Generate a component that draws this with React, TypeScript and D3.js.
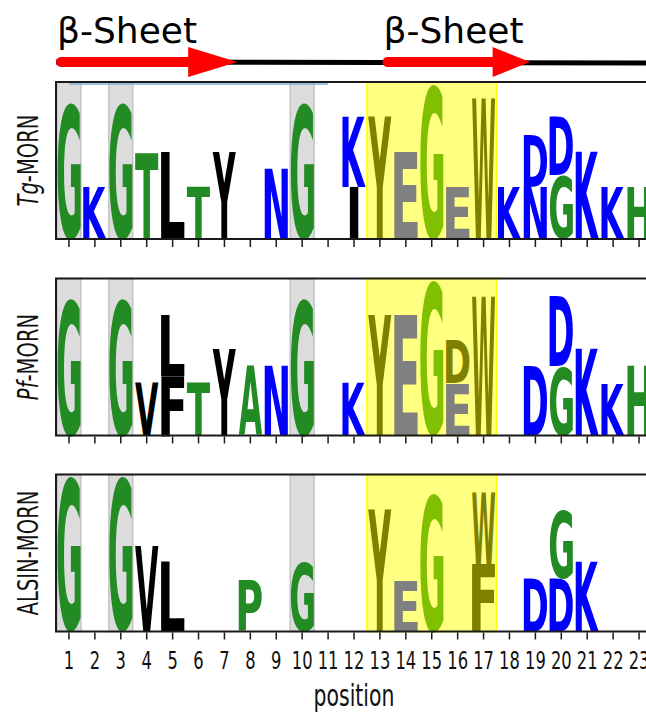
import { useEffect, useRef } from "react";
import * as d3 from "d3";

const positionTicks = [1, 2, 3, 4, 5, 6, 7, 8, 9, 10, 11, 12, 13, 14, 15, 16, 17, 18, 19, 20, 21, 22, 23];
const grayColumns = [1, 3, 10];
const yellowColumns = [13, 14, 15, 16, 17];

// [position, letter, height in bits] - stacked bottom to top
const tgMorn: [number, string, number][] = [
  [1, "G", 3.77], [2, "K", 1.44], [3, "G", 3.77], [4, "T", 2.39], [5, "L", 2.39],
  [6, "T", 1.44], [7, "Y", 2.39], [9, "N", 1.92], [10, "G", 3.77],
  [12, "I", 1.44], [12, "K", 1.93], [13, "Y", 3.37], [14, "E", 2.39], [15, "G", 4.28],
  [16, "E", 1.44], [17, "W", 3.87], [18, "K", 1.44], [19, "N", 1.44], [19, "D", 1.43],
  [20, "G", 1.76], [20, "D", 1.62], [21, "K", 2.4], [22, "K", 1.44], [23, "H", 1.44],
];
const pfMorn: [number, string, number][] = [
  [1, "G", 3.82], [3, "G", 3.82], [4, "V", 1.47], [5, "F", 1.65], [5, "L", 1.68],
  [6, "T", 1.47], [7, "Y", 2.4], [8, "A", 1.94], [9, "N", 1.94], [10, "G", 3.82],
  [12, "K", 1.45], [13, "Y", 3.34], [14, "E", 3.34], [15, "G", 4.28],
  [16, "E", 1.44], [16, "D", 1.18], [17, "W", 3.82], [19, "D", 1.94],
  [20, "G", 1.9], [20, "D", 1.92], [21, "K", 2.4], [22, "K", 1.44], [23, "H", 1.94],
];
const alsinMorn: [number, string, number][] = [
  [1, "G", 4.29], [3, "G", 4.29], [4, "V", 2.38], [5, "L", 1.92], [8, "P", 1.43],
  [10, "G", 1.92], [13, "Y", 3.35], [14, "E", 1.41], [15, "G", 3.83],
  [17, "F", 1.87], [17, "W", 1.96], [19, "D", 1.45], [20, "D", 1.45], [20, "G", 1.89],
  [21, "K", 1.92],
];
const panelPrefixes = ["Tg", "Pf", "ALSIN"];
const panelItalic = [true, true, false];

const sheetStarts = [0.5, 13.1];
const sheetEnds = [7.5, 18.8];
const sheetHeads = [1.9, 1.45];

const letterColors: Record<string, string> = {
  G: "#238b23", T: "#238b23", A: "#238b23", P: "#238b23", H: "#238b23",
  K: "#0000ff", N: "#0000ff", D: "#0000ff",
  L: "#000000", Y: "#000000", V: "#000000", F: "#000000", I: "#000000",
  E: "#808080", W: "#808000",
};
const highlightColors: Record<string, string> = {
  Y: "#808000", W: "#808000", F: "#808000", D: "#808000", E: "#808080", G: "#80c000",
};

const narrowFont = "'DejaVu Sans', sans-serif";
const narrowScale = 0.68;

export default function App() {
  const svgRef = useRef<SVGSVGElement>(null);

  useEffect(() => {
    const width = 646;
    const height = 713;
    const svg = d3.select(svgRef.current);
    svg.selectAll("*").remove();
    svg.attr("viewBox", `0 0 ${width} ${height}`);

    const x = d3.scaleLinear().domain([0.5, 23.5]).range([56, 652]);
    const unit = x(1) - x(0);
    const panelTops = [82, 278.5, 474.5];
    const panelHeight = 157;
    const panels = [tgMorn, pfMorn, alsinMorn];

    const ctx = document.createElement("canvas").getContext("2d")!;
    ctx.font = "bold 100px 'DejaVu Sans'";
    const metrics = (ch: string) => {
      const m = ctx.measureText(ch);
      return {
        l: m.actualBoundingBoxLeft, r: m.actualBoundingBoxRight,
        a: m.actualBoundingBoxAscent, d: m.actualBoundingBoxDescent,
      };
    };
    const eMetrics = metrics("E");

    // secondary structure
    const sy = 62;
    svg.append("line")
      .attr("x1", x(0.5)).attr("x2", width + 10)
      .attr("y1", sy).attr("y2", sy + 1)
      .attr("stroke", "#000").attr("stroke-width", 5);
    sheetStarts.forEach((s, i) => {
      const e = sheetEnds[i];
      const hb = e - sheetHeads[i];
      svg.append("line")
        .attr("x1", x(s) + 5).attr("x2", x(hb) + 2)
        .attr("y1", sy).attr("y2", sy)
        .attr("stroke", "#ff0000").attr("stroke-width", 10)
        .attr("stroke-linecap", "round");
      svg.append("path")
        .attr("d", `M${x(hb)},${sy - 15}L${x(e)},${sy}L${x(hb)},${sy + 15}Z`)
        .attr("fill", "#ff0000");
      svg.append("text")
        .attr("x", x(s) + 1).attr("y", 43)
        .attr("font-family", "'DejaVu Sans', sans-serif")
        .attr("font-size", 36)
        .attr("fill", "#000")
        .text("β-Sheet");
    });

    panels.forEach((data, pi) => {
      const top = panelTops[pi];
      const bottom = top + panelHeight;
      const y = d3.scaleLinear().domain([0, 4.32]).range([bottom, top]);
      const g = svg.append("g");

      g.selectAll("rect.gray")
        .data(grayColumns)
        .join("rect")
        .attr("x", d => x(d - 0.5) + 1).attr("y", top)
        .attr("width", unit - 2).attr("height", panelHeight)
        .attr("fill", "#dcdcdc").attr("stroke", "#c4c4c4").attr("stroke-width", 1.5);

      g.append("rect")
        .attr("x", x(yellowColumns[0] - 0.5)).attr("y", top)
        .attr("width", x(yellowColumns[yellowColumns.length - 1] + 0.5) - x(yellowColumns[0] - 0.5))
        .attr("height", panelHeight)
        .attr("fill", "#ffff80").attr("stroke", "#ffff00").attr("stroke-width", 1.5);

      if (pi === 0) {
        g.append("line")
          .attr("x1", x(1)).attr("x2", x(11))
          .attr("y1", top + 2).attr("y2", top + 2)
          .attr("stroke", "#7fb0d8").attr("stroke-width", 1.5);
      }

      // stack letters; narrow glyphs are not stretched more than "E"
      const base: Record<number, number> = {};
      data.forEach(([pos, ch, h]) => {
        const b = base[pos] ?? 0;
        base[pos] = b + h;
        const m = metrics(ch);
        const bw = unit * 0.9;
        const sx = Math.min(bw / (m.l + m.r), bw / (eMetrics.l + eMetrics.r));
        const gw = (m.l + m.r) * sx;
        const bx = x(pos - 0.45) + (bw - gw) / 2;
        const by = y(b + h);
        const bh = y(b) - y(b + h);
        const syy = bh / (m.a + m.d);
        const color = yellowColumns.includes(pos) ? (highlightColors[ch] ?? letterColors[ch]) : letterColors[ch];
        g.append("text")
          .attr("transform", `translate(${bx + m.l * sx},${by + m.a * syy}) scale(${sx},${syy})`)
          .attr("font-family", "'DejaVu Sans', sans-serif")
          .attr("font-weight", "bold")
          .attr("font-size", 100)
          .attr("fill", color)
          .text(ch);
      });

      g.append("rect")
        .attr("x", x(0.5)).attr("y", top)
        .attr("width", x(23.5) - x(0.5)).attr("height", panelHeight)
        .attr("fill", "none").attr("stroke", "#1a1a1a").attr("stroke-width", 2);

      g.selectAll("line.tick")
        .data(positionTicks)
        .join("line")
        .attr("x1", d => x(d)).attr("x2", d => x(d))
        .attr("y1", bottom + 1).attr("y2", bottom + 8)
        .attr("stroke", "#1a1a1a").attr("stroke-width", 1.5);

      const label = svg.append("text")
        .attr("transform", `translate(38,${top + panelHeight / 2}) rotate(-90) scale(0.7,1)`)
        .attr("text-anchor", "middle")
        .attr("font-family", narrowFont)
        .attr("font-size", 28)
        .attr("fill", "#111");
      label.append("tspan")
        .attr("font-style", panelItalic[pi] ? "italic" : "normal")
        .text(panelPrefixes[pi]);
      label.append("tspan").text("-MORN");

      if (pi === panels.length - 1) {
        g.selectAll("text.ticklabel")
          .data(positionTicks)
          .join("text")
          .attr("transform", d => `translate(${x(d)},${bottom + 37}) scale(${narrowScale},1)`)
          .attr("text-anchor", "middle")
          .attr("font-family", narrowFont)
          .attr("font-size", 24)
          .attr("fill", "#111")
          .text(d => String(d));
        svg.append("text")
          .attr("transform", `translate(${x(12)},706) scale(${narrowScale},1)`)
          .attr("text-anchor", "middle")
          .attr("font-family", narrowFont)
          .attr("font-size", 30)
          .attr("fill", "#111")
          .text("position");
      }
    });
  }, []);

  return (
    <svg
      ref={svgRef}
      width={646}
      height={713}
      style={{ position: "absolute", left: 0, top: 0, background: "#fff" }}
    />
  );
}
